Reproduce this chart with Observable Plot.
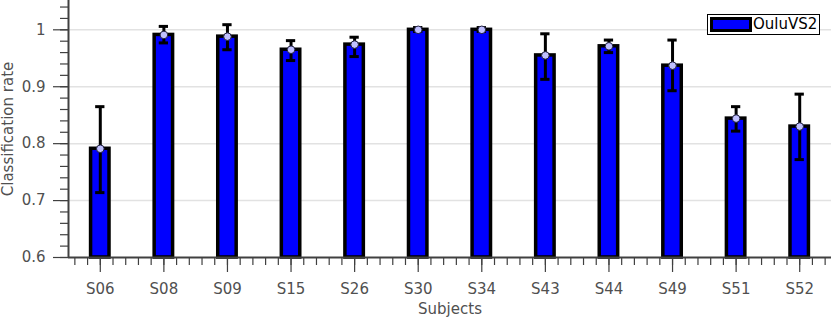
<!DOCTYPE html>
<html>
<head>
<meta charset="utf-8">
<script src="https://cdn.jsdelivr.net/npm/d3@7"></script>
<script src="https://cdn.jsdelivr.net/npm/@observablehq/plot@0.6"></script>
<style>
  html, body { margin: 0; padding: 0; background: white; }
  #wrap { position: relative; width: 832px; height: 317px; font-family: "DejaVu Sans", sans-serif; }
  #legend { position: absolute; left: 707px; top: 14px; width: 111px; height: 19px; border: 1px solid black; background: white; box-sizing: content-box; }
  #legend .sw { position: absolute; left: 2px; top: 2px; width: 36px; height: 9px; background: #0000ff; border: 3px solid black; }
  #legend .lb { position: absolute; left: 45px; top: 0px; font-size: 15px; line-height: 19px; color: black; }
</style>
</head>
<body>
<div id="wrap"><div id="legend"><div class="sw"></div><div class="lb">OuluVS2</div></div></div>
<script>
const subjects = ["S06","S08","S09","S15","S26","S30","S34","S43","S44","S49","S51","S52"];
const rates    = [0.791, 0.991, 0.988, 0.965, 0.974, 1.000, 1.000, 0.955, 0.971, 0.937, 0.844, 0.830];
const errUp    = [0.074, 0.015, 0.021, 0.016, 0.013, 0.004, 0.004, 0.038, 0.011, 0.045, 0.021, 0.057];
const errDown  = [0.077, 0.014, 0.023, 0.019, 0.021, 0.003, 0.003, 0.042, 0.011, 0.044, 0.022, 0.058];
const yMajorTicks = [0.6, 0.7, 0.8, 0.9, 1.0];
const yTickLabels = ["0.6", "0.7", "0.8", "0.9", "1"];
const gridTicks = [0.7, 0.8, 0.9, 1.0];
const seriesName = "OuluVS2";

const baseline = 0.6;
const halfBar = 0.145;
const halfCap = 0.073;

const data = subjects.map((s, i) => ({
  subject: s, pos: i + 1, rate: rates[i],
  lo: rates[i] - errDown[i], hi: rates[i] + errUp[i]
}));
const xMajor = subjects.map((s, i) => i + 1);
const xMinor = d3.range(0.6, 12.41, 0.2);
const yMinor = d3.range(0.6, 1.041, 0.02);

const axisColor = "#404040";
const textColor = "#505050";

const chart = Plot.plot({
  width: 832, height: 317,
  marginLeft: 68, marginRight: 1, marginTop: 0, marginBottom: 60,
  style: { fontFamily: "DejaVu Sans", fontSize: "15px", color: textColor, background: "white", overflow: "visible" },
  x: { domain: [0.5, 12.5], axis: null },
  y: { domain: [0.6, 1.0515], axis: null },
  marks: [
    Plot.ruleY(gridTicks, { stroke: "#e2e2e2", strokeWidth: 1.5 }),
    Plot.rect(data, { x1: d => d.pos - halfBar, x2: d => d.pos + halfBar, y1: () => baseline, y2: "rate", fill: "#0000ff", stroke: "black", strokeWidth: 3.5 }),
    Plot.ruleX(data, { x: "pos", y1: "lo", y2: "hi", stroke: "black", strokeWidth: 3 }),
    Plot.ruleY(data, { y: "hi", x1: d => d.pos - halfCap, x2: d => d.pos + halfCap, stroke: "black", strokeWidth: 3 }),
    Plot.ruleY(data, { y: "lo", x1: d => d.pos - halfCap, x2: d => d.pos + halfCap, stroke: "black", strokeWidth: 3 }),
    Plot.dot(data, { x: "pos", y: "rate", r: 3.8, fill: "#c0c0ff", stroke: "#202040", strokeWidth: 1 }),
    Plot.axisX(xMinor, { tickSize: 8, tickFormat: () => "", stroke: axisColor, strokeWidth: 1.2, label: null }),
    Plot.axisX(xMajor, { tickSize: 15, tickPadding: 11, tickFormat: d => subjects[d - 1], stroke: axisColor, strokeWidth: 1.2, fill: textColor,
      label: "Subjects", labelAnchor: "center", labelArrow: "none", labelOffset: 56 }),
    Plot.axisY(yMinor, { tickSize: 8, tickFormat: () => "", stroke: axisColor, strokeWidth: 1.2, label: null }),
    Plot.axisY(yMajorTicks, { tickSize: 15, tickPadding: 8, tickFormat: (d, i) => yTickLabels[yMajorTicks.indexOf(d)], stroke: axisColor, strokeWidth: 1.2, fill: textColor,
      label: "Classification rate", labelAnchor: "center", labelArrow: "none", labelOffset: 66 }),
    Plot.ruleY([0.6], { stroke: axisColor, strokeWidth: 2 }),
    Plot.ruleX([0.5], { stroke: axisColor, strokeWidth: 2 })
  ]
});
document.getElementById("wrap").prepend(chart);
document.querySelector("#legend .lb").textContent = seriesName;
</script>
</body>
</html>
